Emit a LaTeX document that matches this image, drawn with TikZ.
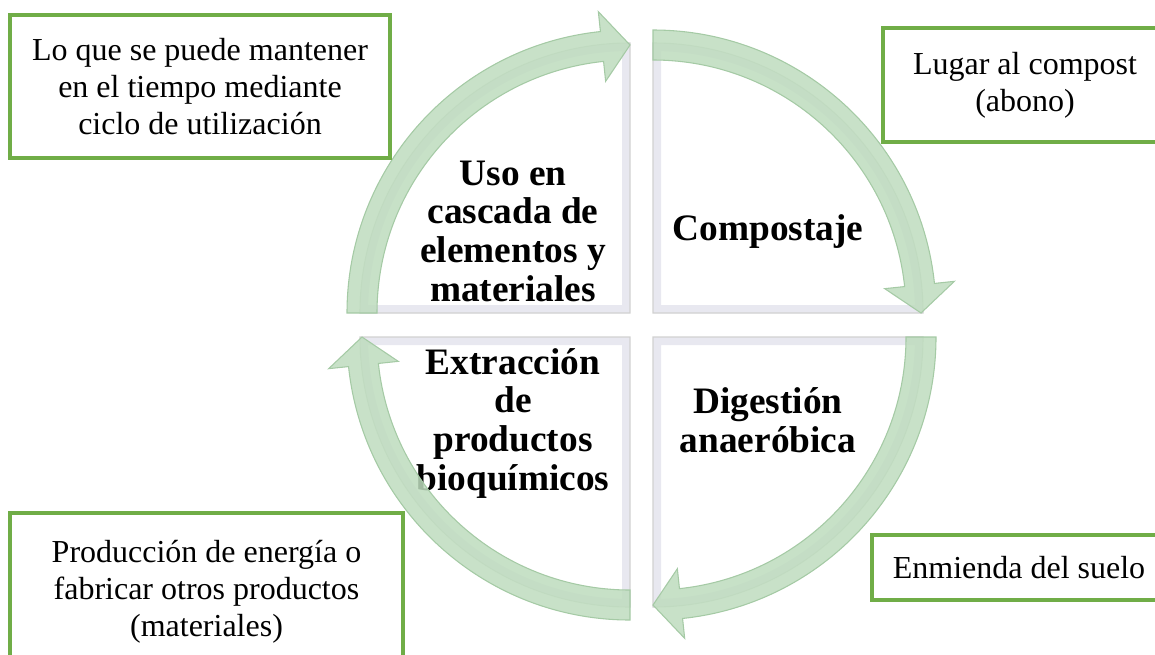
\documentclass[tikz,border=0pt]{standalone}
\usepackage{fontspec}
\setmainfont{Liberation Serif}
\usetikzlibrary{calc}
\definecolor{boxgreen}{RGB}{112,173,71}
\definecolor{bandgreen}{RGB}{190,220,190}
\definecolor{bandedge}{RGB}{165,202,165}
\definecolor{bevelgray}{RGB}{232,232,240}
\begin{document}
\begin{tikzpicture}[x=0.75pt,y=-0.75pt,
  corner/.style={draw=boxgreen, line width=2.4pt, fill=white, align=center,
    inner sep=0pt, font={\fontsize{24}{27.75}\selectfont}},
  wedgetext/.style={align=center, inner sep=0pt,
    font={\fontsize{28}{29}\selectfont\bfseries}},
  wedge/.style={draw=black!18, line width=0.8pt},
  bevel/.style={draw=bevelgray, line width=12pt},
  band/.style={fill=bandgreen, fill opacity=0.85, draw=bandedge, line width=0.8pt}]
  \useasboundingbox (0,0) rectangle (1155,654);
  \clip (0,0) rectangle (1155,654);

  % corners of the four quarters
  \coordinate (cTL) at (630,313);
  \coordinate (cTR) at (653,313);
  \coordinate (cBR) at (653,337);
  \coordinate (cBL) at (630,337);

  % quarters
  \foreach \c/\s in {cTL/180, cTR/270, cBR/0, cBL/90}
  {
    \pgfmathsetmacro{\e}{\s+90}
    \begin{scope}
      \clip (\c) -- ($(\c)+(\s:270)$) arc[start angle=\s, end angle=\e, radius=270] -- cycle;
      \fill[white] (\c) -- ($(\c)+(\s:270)$) arc[start angle=\s, end angle=\e, radius=270] -- cycle;
      \draw[bevel] (\c) -- ($(\c)+(\s:270)$) arc[start angle=\s, end angle=\e, radius=270] -- cycle;
    \end{scope}
    \draw[wedge] (\c) -- ($(\c)+(\s:270)$) arc[start angle=\s, end angle=\e, radius=270] -- cycle;
  }

  \node[wedgetext] (uso) at (513,231) {Uso en\\cascada de\\elementos y\\materiales};
  \node[wedgetext] (compost) at (768,232) {Compostaje};
  \node[wedgetext] (digest) at (768,420) {Digestión\\anaeróbica};
  \node[wedgetext] (extrac) at (513,423) {Extracción\\de\\productos\\bioquímicos};

  % circular arrows
  \foreach \c/\s in {cTL/180, cTR/270, cBR/0, cBL/90}
  {
    \pgfmathsetmacro{\e}{\s+90}
    \pgfmathsetmacro{\b}{\s+84}
    \draw[band] ($(\c)+(\s:283)$) arc[start angle=\s, end angle=\b, radius=283]
      -- ($(\c)+(\b:303)$) -- ($(\c)+(\e:268)$) -- ($(\c)+(\b:233)$)
      -- ($(\c)+(\b:253)$) arc[start angle=\b, end angle=\s, radius=253] -- cycle;
  }

  % text boxes
  \node[corner, minimum width=285pt, minimum height=107.25pt] (keep) at (200,86.5)
    {Lo que se puede mantener\\en el tiempo mediante\\ciclo de utilización};
  \node[corner, minimum width=213pt, minimum height=85.5pt] (abono) at (1025,85)
    {Lugar al compost\\(abono)};
  \node[corner, minimum width=294.75pt, minimum height=118.5pt] (energy) at (206.5,592)
    {Producción de energía o\\fabricar otros productos\\(materiales)};
  \node[corner, minimum width=220.5pt, minimum height=48.75pt] (soil) at (1019,567.5)
    {Enmienda del suelo};
\end{tikzpicture}
\end{document}
